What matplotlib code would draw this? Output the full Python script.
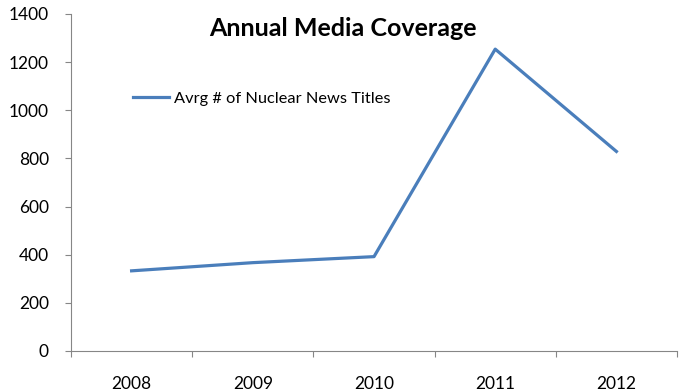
import numpy as np
import matplotlib.pyplot as plt

plt.rcParams['font.family'] = ['Lato', 'DejaVu Sans']

years = ['2008', '2009', '2010', '2011', '2012']
avg_titles = [333, 367, 392, 1254, 829]

fig = plt.figure(figsize=(6.84, 3.92), dpi=100)
ax = fig.add_axes([0.1038, 0.1046, 0.886, 0.8597])

x = np.arange(len(years))
ax.plot(x, avg_titles, color='#4A7EBB', linewidth=2.3, label='Avrg # of Nuclear News Titles')

ax.set_xlim(-0.5, len(years) - 0.5)
ax.set_ylim(0, 1400)
ax.set_yticks(np.arange(0, 1401, 200))

# category boundaries get the tick marks, labels sit in between
ax.set_xticks(np.arange(-0.5, len(years), 1.0))
ax.set_xticklabels([])
ax.set_xticks(x, minor=True)
ax.set_xticklabels(years, minor=True)
ax.tick_params(axis='x', which='minor', length=0, pad=18, labelsize=12.5)
ax.tick_params(axis='x', which='major', length=4, color='#868686')
ax.tick_params(axis='y', length=4, color='#868686', labelsize=12.5, pad=12)

for side in ['top', 'right']:
    ax.spines[side].set_visible(False)
for side in ['left', 'bottom']:
    ax.spines[side].set_color('#868686')

fig.text(0.502, 0.928, 'Annual Media Coverage', ha='center', va='center',
         fontsize=18, fontweight='bold')

ax.legend(loc='upper left', bbox_to_anchor=(0.078, 0.815), frameon=False,
          fontsize=11.8, handlelength=2.2, handletextpad=0.3)

fig.savefig('out.png', dpi=100)
